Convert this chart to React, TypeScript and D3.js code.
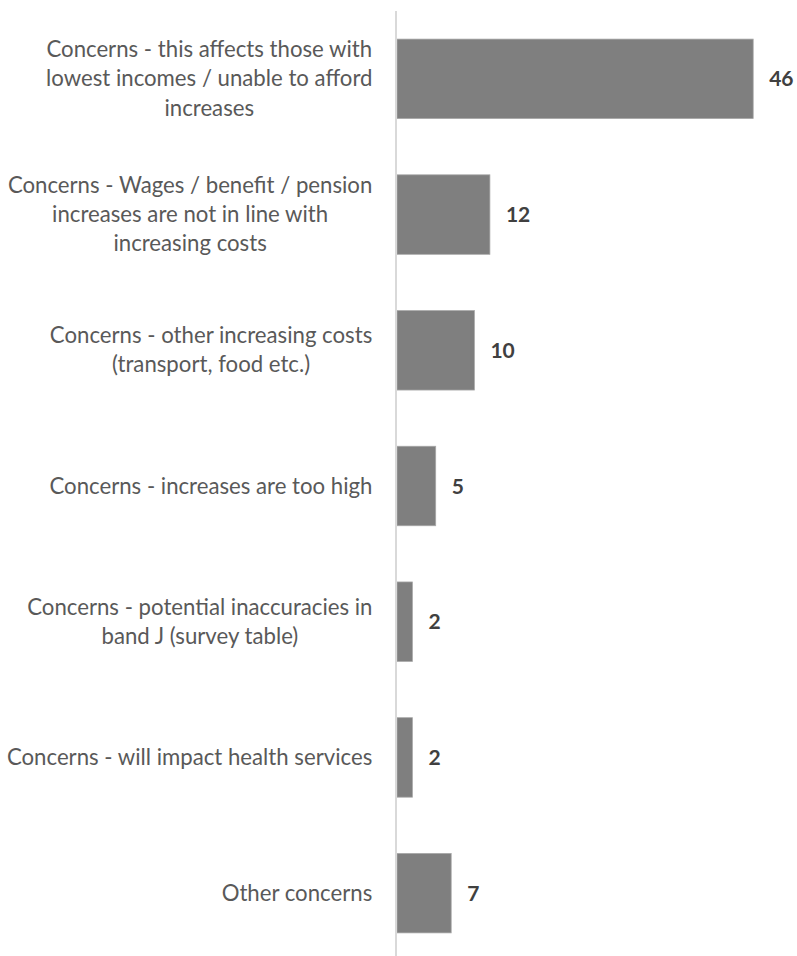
import React from "react";
import * as d3 from "d3";

const categories: string[][] = [
  ["Concerns - this affects those with", "lowest incomes / unable to afford", "increases"],
  ["Concerns - Wages / benefit / pension", "increases are not in line with", "increasing costs"],
  ["Concerns - other increasing costs", "(transport, food etc.)"],
  ["Concerns - increases are too high"],
  ["Concerns - potential inaccuracies in", "band J (survey table)"],
  ["Concerns - will impact health services"],
  ["Other concerns"],
];
const values: number[] = [46, 12, 10, 5, 2, 2, 7];

const W = 797;
const H = 956;
const FONT = "Lato, 'Open Sans', sans-serif";
const LABEL_SIZE = 22.2;
const VALUE_SIZE = 21;
const LINE_H = 29.3;

let ctx: CanvasRenderingContext2D | null = null;
function measure(text: string, size: number, weight = "normal"): number {
  if (!ctx) ctx = document.createElement("canvas").getContext("2d");
  if (!ctx) return text.length * size * 0.5;
  ctx.font = `${weight} ${size}px ${FONT}`;
  return ctx.measureText(text).width;
}

export default function App() {
  const keys = categories.map((_, i) => String(i));
  const y = d3.scaleBand<string>().domain(keys).range([11, 961]).paddingInner(0.414).paddingOuter(0.207);
  const x = d3.scaleLinear().domain([0, 46]).range([397, 753.2]);
  const labelRight = 372.5;
  const capH = LABEL_SIZE * 0.68;

  return (
    <svg width={W} height={H} style={{ position: "absolute", left: 0, top: 0, background: "#fff" }}>
      {values.map((v, i) => {
        const y0 = y(String(i))!;
        const bw = y.bandwidth();
        const cy = y0 + bw / 2;
        const lines = categories[i];
        const maxW = Math.max(...lines.map((l) => measure(l, LABEL_SIZE)));
        const cx = labelRight - maxW / 2;
        return (
          <g key={i}>
            <rect x={x(0)} y={y0} width={x(v) - x(0)} height={bw} fill="#7f7f7f" stroke="#a9a9a9" strokeWidth={0.75} />
            <text
              x={x(v) + 16}
              y={cy + VALUE_SIZE * 0.36}
              fontFamily={FONT}
              fontSize={VALUE_SIZE}
              fontWeight="bold"
              fill="#404040"
            >
              {v}
            </text>
            {lines.map((l, j) => (
              <text
                key={j}
                x={cx}
                y={cy + (j - (lines.length - 1) / 2) * LINE_H + capH / 2}
                textAnchor="middle"
                fontFamily={FONT}
                fontSize={LABEL_SIZE}
                fill="#595959"
              >
                {l}
              </text>
            ))}
          </g>
        );
      })}
      <line x1={396} x2={396} y1={11} y2={H} stroke="#d9d9d9" strokeWidth={2} />
    </svg>
  );
}
